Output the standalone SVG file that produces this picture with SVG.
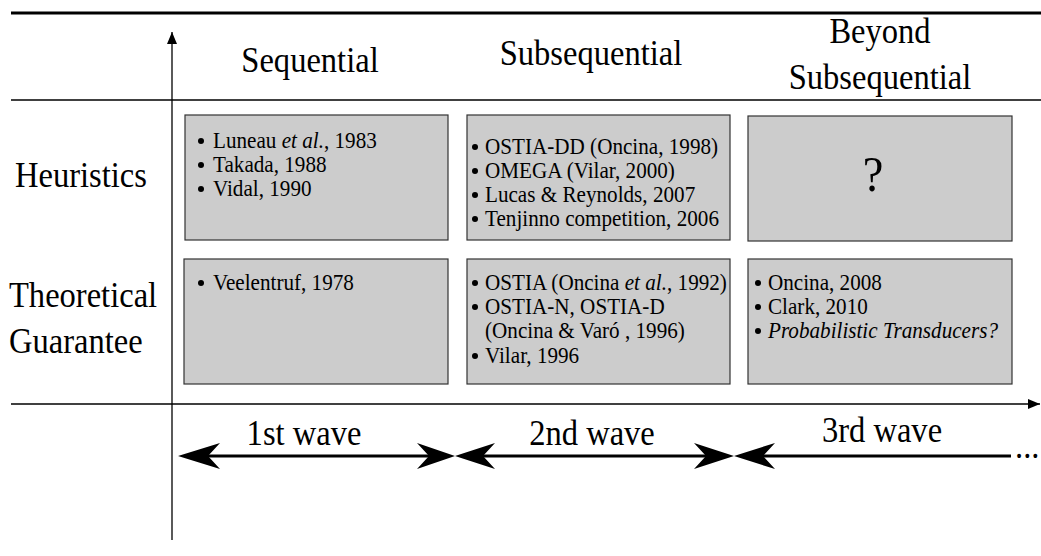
<svg xmlns="http://www.w3.org/2000/svg" width="1041" height="556" viewBox="0 0 1041 556">
  <style>
    .hdr { font-family: "Liberation Serif", "Times New Roman", serif; font-size: 35px; fill: #000; }
    .itm { font-family: "Liberation Serif", "Times New Roman", serif; font-size: 23px; fill: #000; }
    .it { font-style: italic; }
    .box { fill: #cccccc; stroke: #333333; stroke-width: 1.2; }
    .rule { stroke: #000; fill: none; }
    .wave { stroke: #000; stroke-width: 3; fill: none; }
    .head { fill: #000; }
  </style>
  <defs>
    <marker id="axisHead" viewBox="0 0 12 10" refX="12" refY="5" markerWidth="12" markerHeight="10" markerUnits="userSpaceOnUse" orient="auto">
      <path d="M0,0 L12,5 L0,10 Z" fill="#000"/>
    </marker>
  </defs>

  <rect width="1041" height="556" fill="#ffffff"/>

  <!-- table rules and axes -->
  <g id="connectors">
    <line class="rule" x1="11" y1="13" x2="1041" y2="13" stroke-width="3"/>
    <line class="rule" x1="11" y1="100" x2="1041" y2="100" stroke-width="1.3"/>
    <line class="rule" x1="172" y1="540" x2="172" y2="32" stroke-width="1.3" marker-end="url(#axisHead)"/>
    <line class="rule" x1="11" y1="404" x2="1040" y2="404" stroke-width="1.3" marker-end="url(#axisHead)"/>

    <!-- wave spans -->
    <line class="wave" x1="205" y1="456" x2="432" y2="456"/>
    <line class="wave" x1="478" y1="456" x2="710" y2="456"/>
    <line class="wave" x1="758" y1="456" x2="1011" y2="456"/>
    <polygon class="head" points="178,456 220,443 208,456 220,469"/>
    <polygon class="head" points="455,456 417,443 429,456 417,469"/>
    <polygon class="head" points="455,456 495,443 483,456 495,469"/>
    <polygon class="head" points="734,456 694,443 706,456 694,469"/>
    <polygon class="head" points="734,456 775,443 763,456 775,469"/>
    <text class="hdr" transform="matrix(0.93 0 0 1 1015 458)">...</text>
  </g>

  <!-- column headings -->
  <g id="col-sequential">
    <text class="hdr" text-anchor="middle" transform="matrix(0.93 0 0 1 310 72)">Sequential</text>
  </g>
  <g id="col-subsequential">
    <text class="hdr" text-anchor="middle" transform="matrix(0.93 0 0 1 591 65)">Subsequential</text>
  </g>
  <g id="col-beyond">
    <text class="hdr" text-anchor="middle" transform="matrix(0.93 0 0 1 880 43)">Beyond</text>
    <text class="hdr" text-anchor="middle" transform="matrix(0.93 0 0 1 880 89)">Subsequential</text>
  </g>

  <!-- row headings -->
  <g id="row-heuristics">
    <text class="hdr" transform="matrix(0.93 0 0 1 15 187)">Heuristics</text>
  </g>
  <g id="row-theoretical">
    <text class="hdr" transform="matrix(0.93 0 0 1 9 307)">Theoretical</text>
    <text class="hdr" transform="matrix(0.93 0 0 1 9 353)">Guarantee</text>
  </g>

  <!-- heuristics row -->
  <g id="heur-seq">
    <rect class="box" x="185" y="115" width="263" height="125"/>
    <circle cx="201" cy="141" r="3"/>
    <circle cx="201" cy="165" r="3"/>
    <circle cx="201" cy="189" r="3"/>
    <text class="itm" transform="matrix(0.92 0 0 1 213 148)">Luneau <tspan class="it">et al.</tspan>, 1983</text>
    <text class="itm" transform="matrix(0.92 0 0 1 213 172)">Takada, 1988</text>
    <text class="itm" transform="matrix(0.92 0 0 1 213 196)">Vidal, 1990</text>
  </g>
  <g id="heur-subseq">
    <rect class="box" x="467" y="115" width="263" height="125"/>
    <circle cx="475" cy="147" r="3"/>
    <circle cx="475" cy="171" r="3"/>
    <circle cx="475" cy="195" r="3"/>
    <circle cx="475" cy="219" r="3"/>
    <text class="itm" transform="matrix(0.92 0 0 1 485 154)">OSTIA-DD (Oncina, 1998)</text>
    <text class="itm" transform="matrix(0.92 0 0 1 485 178)">OMEGA (Vilar, 2000)</text>
    <text class="itm" transform="matrix(0.92 0 0 1 485 202)">Lucas &amp; Reynolds, 2007</text>
    <text class="itm" transform="matrix(0.92 0 0 1 485 226)">Tenjinno competition, 2006</text>
  </g>
  <g id="heur-beyond">
    <rect class="box" x="748" y="116" width="264" height="125"/>
    <text class="hdr" text-anchor="middle" style="font-size:50px" transform="matrix(0.93 0 0 1 873 191)">?</text>
  </g>

  <!-- theoretical guarantee row -->
  <g id="theo-seq">
    <rect class="box" x="184" y="259" width="264" height="125"/>
    <circle cx="201" cy="283" r="3"/>
    <text class="itm" transform="matrix(0.92 0 0 1 213 290)">Veelentruf, 1978</text>
  </g>
  <g id="theo-subseq">
    <rect class="box" x="467" y="259" width="263" height="125"/>
    <circle cx="475" cy="283" r="3"/>
    <circle cx="475" cy="307" r="3"/>
    <circle cx="475" cy="356" r="3"/>
    <text class="itm" transform="matrix(0.92 0 0 1 485 290)">OSTIA (Oncina <tspan class="it">et al.</tspan>, 1992)</text>
    <text class="itm" transform="matrix(0.92 0 0 1 485 314)">OSTIA-N, OSTIA-D</text>
    <text class="itm" transform="matrix(0.92 0 0 1 485 338)">(Oncina &amp; Varó , 1996)</text>
    <text class="itm" transform="matrix(0.92 0 0 1 485 363)">Vilar, 1996</text>
  </g>
  <g id="theo-beyond">
    <rect class="box" x="748" y="259" width="264" height="125"/>
    <circle cx="758" cy="283" r="3"/>
    <circle cx="758" cy="307" r="3"/>
    <circle cx="758" cy="331" r="3"/>
    <text class="itm" transform="matrix(0.92 0 0 1 768 290)">Oncina, 2008</text>
    <text class="itm" transform="matrix(0.92 0 0 1 768 314)">Clark, 2010</text>
    <text class="itm it" transform="matrix(0.92 0 0 1 768 338)">Probabilistic Transducers?</text>
  </g>

  <!-- wave labels -->
  <g id="wave-1">
    <text class="hdr" text-anchor="middle" transform="matrix(0.93 0 0 1 304 445)">1st wave</text>
  </g>
  <g id="wave-2">
    <text class="hdr" text-anchor="middle" transform="matrix(0.93 0 0 1 592 445)">2nd wave</text>
  </g>
  <g id="wave-3">
    <text class="hdr" text-anchor="middle" transform="matrix(0.93 0 0 1 882 442)">3rd wave</text>
  </g>
</svg>
